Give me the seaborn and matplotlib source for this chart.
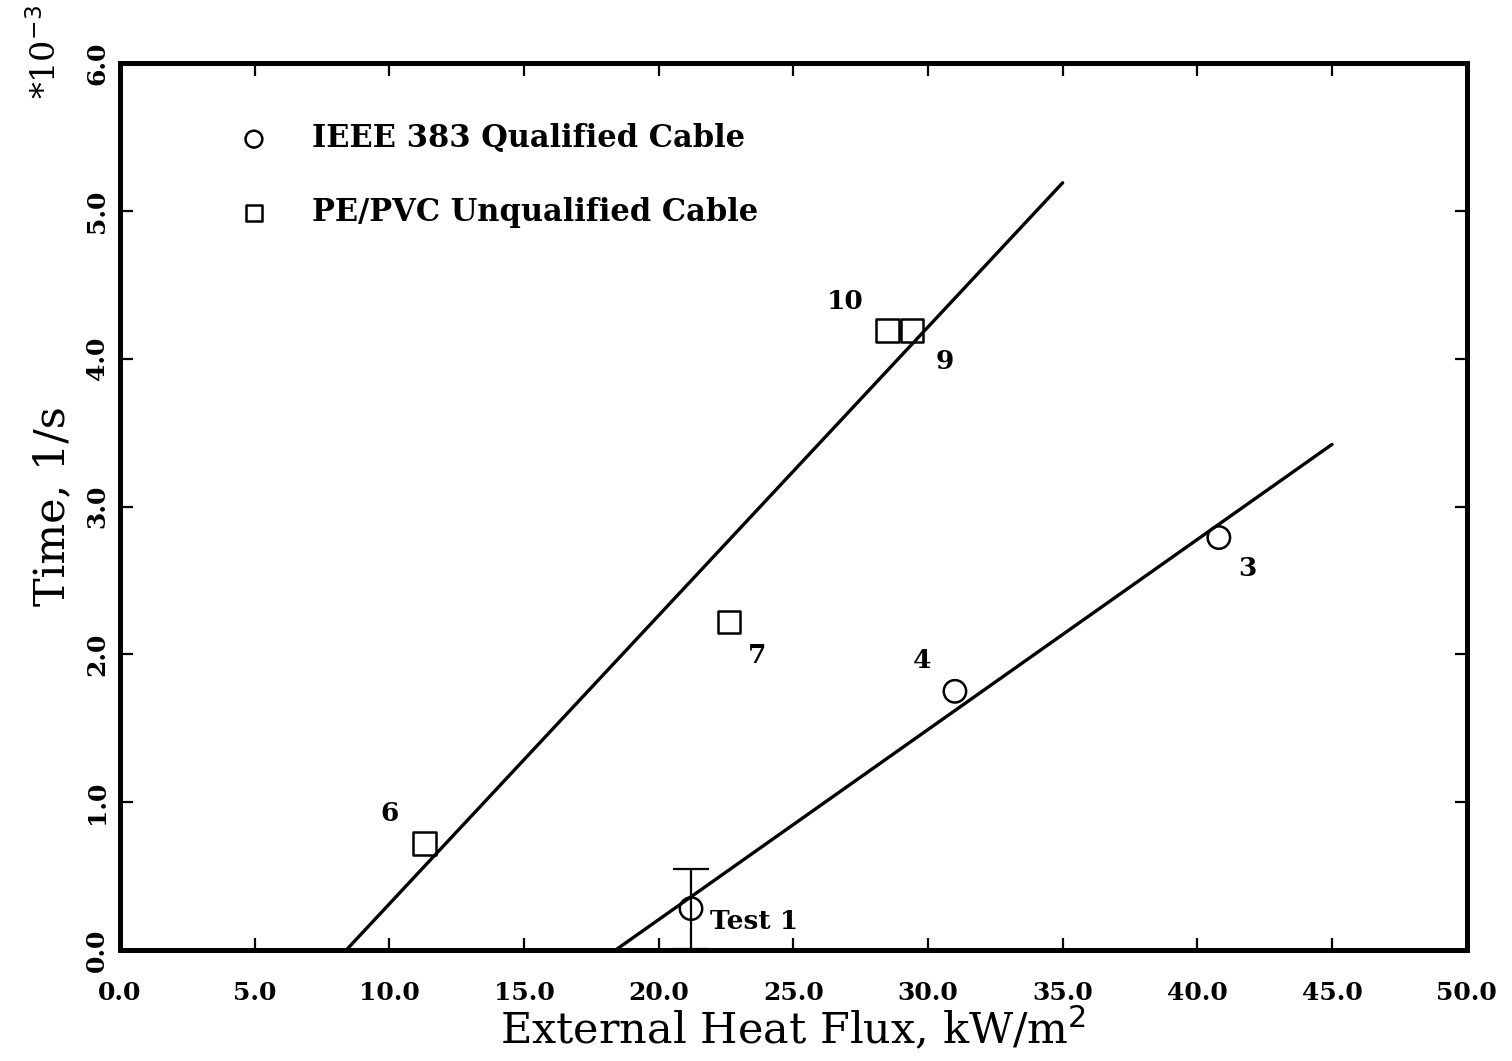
import numpy as np
import pandas as pd
import seaborn as sns
import matplotlib.pyplot as plt

# IEEE 383 qualified cable (circles)
qual_flux = [21.2, 31.0, 40.8]
qual_time = [0.28, 1.75, 2.79]
qual_tags = ['Test 1', '4', '3']
test1_err = 0.27

# PE/PVC unqualified cable (squares)
unq_flux = [11.3, 22.6, 28.5, 29.4]
unq_time = [0.72, 2.22, 4.19, 4.19]
unq_tags = ['6', '7', '10', '9']

# fitted lines (end points)
unq_fit_x = [8.4, 35.0]
unq_fit_y = [0.0, 5.19]
qual_fit_x = [18.4, 45.0]
qual_fit_y = [0.0, 3.42]

xticks = np.arange(0, 55, 5)
yticks = np.arange(0, 7, 1)

sns.set_style('white')
plt.rcParams['font.family'] = ['DejaVu Serif']
plt.rcParams['text.color'] = 'black'
plt.rcParams['axes.labelcolor'] = 'black'
plt.rcParams['xtick.color'] = 'black'
plt.rcParams['ytick.color'] = 'black'

fig, ax = plt.subplots(figsize=(15.12, 10.61), dpi=100)
fig.subplots_adjust(left=0.0794, right=0.970, bottom=0.1046, top=0.9406)

sns.lineplot(x=unq_fit_x, y=unq_fit_y, color='black', linewidth=2.4, ax=ax)
sns.lineplot(x=qual_fit_x, y=qual_fit_y, color='black', linewidth=2.4, ax=ax)

ax.errorbar(qual_flux[0], qual_time[0], yerr=test1_err, fmt='none',
            ecolor='black', elinewidth=1.6, capsize=13, capthick=1.6)

sns.scatterplot(x=qual_flux, y=qual_time, marker='o', s=260, color='black',
                linewidth=1.8, ax=ax, label='IEEE 383 Qualified Cable', zorder=5)
sns.scatterplot(x=unq_flux, y=unq_time, marker='s', s=260, color='black',
                linewidth=1.8, ax=ax, label='PE/PVC Unqualified Cable', zorder=5)
for coll in ax.collections:
    coll.set_facecolor('none')
    coll.set_edgecolor('black')

# point labels
qual_offsets = [(14, -9), (-30, 22), (14, -22)]
unq_offsets = [(-32, 22), (14, -24), (-44, 21), (17, -22)]
for x, y, t, off in zip(qual_flux, qual_time, qual_tags, qual_offsets):
    ax.annotate(t, (x, y), xytext=off, textcoords='offset points',
                fontsize=19, fontweight='bold', ha='left', va='center')
for x, y, t, off in zip(unq_flux, unq_time, unq_tags, unq_offsets):
    ax.annotate(t, (x, y), xytext=off, textcoords='offset points',
                fontsize=19, fontweight='bold', ha='left', va='center')

leg = ax.legend(loc='upper left', bbox_to_anchor=(0.079, 0.946), frameon=False,
                prop={'size': 22, 'weight': 'bold'}, labelspacing=1.4,
                handletextpad=1.4, handlelength=1.0, markerscale=0.75,
                borderaxespad=0)
for h in leg.legend_handles:
    h.set_facecolor('none')
    h.set_edgecolor('black')

ax.set_xlim(0, 50)
ax.set_ylim(0, 6)
ax.set_xticks(xticks)
ax.set_yticks(yticks)
ax.set_xticklabels([f'{v:.1f}' for v in xticks], fontsize=18, fontweight='bold')
ax.set_yticklabels([f'{v:.1f}' for v in yticks], fontsize=18, fontweight='bold',
                   rotation=90, va='center')
ax.tick_params(direction='in', length=9, width=1.6, top=True, right=True,
               bottom=True, left=True, color='black')
ax.tick_params(axis='x', pad=22)
ax.tick_params(axis='y', pad=8)

for sp in ax.spines.values():
    sp.set_linewidth(3.6)
    sp.set_color('black')

ax.set_xlabel('External Heat Flux, kW/m$^2$', fontsize=31, labelpad=0)
ax.set_ylabel('Time, 1/s', fontsize=31, labelpad=8)
fig.text(0.03, 0.995, '*10$^{-3}$', rotation=90, fontsize=24, ha='center', va='top')

plt.savefig('out.png', dpi=100)
